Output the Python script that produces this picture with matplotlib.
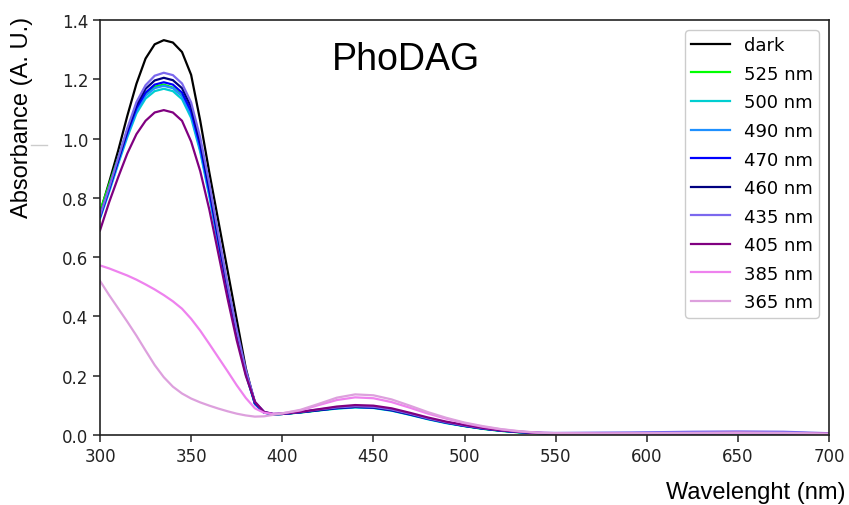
import matplotlib
matplotlib.use("Agg")
import matplotlib.pyplot as plt
from matplotlib.lines import Line2D

wavelength = [300, 305, 310, 315, 320, 325, 330, 335, 340, 345, 350, 355, 360, 365, 370,
              375, 380, 385, 390, 395, 400, 410, 420, 430, 440, 450, 460, 470, 480, 490,
              500, 510, 520, 530, 540, 550, 575, 600, 625, 650, 675, 700]

dark = [0.75, 0.852, 0.96, 1.077, 1.185, 1.27, 1.318, 1.332, 1.324, 1.292, 1.215, 1.06, 0.885, 0.72, 0.555,
        0.39, 0.225, 0.105, 0.076, 0.07, 0.071, 0.077, 0.084, 0.091, 0.095, 0.093, 0.084, 0.07, 0.055, 0.042,
        0.031, 0.022, 0.015, 0.01, 0.007, 0.005, 0.004, 0.005, 0.006, 0.007, 0.006, 0.004]
nm525 = [0.755, 0.845, 0.935, 1.025, 1.1, 1.15, 1.175, 1.182, 1.172, 1.145, 1.08, 0.965, 0.815, 0.65, 0.49,
         0.34, 0.21, 0.108, 0.076, 0.07, 0.071, 0.076, 0.083, 0.09, 0.094, 0.092, 0.083, 0.069, 0.054, 0.041,
         0.03, 0.021, 0.014, 0.009, 0.006, 0.005, 0.004, 0.005, 0.006, 0.006, 0.005, 0.004]
nm500 = [0.73, 0.82, 0.915, 1.005, 1.085, 1.135, 1.16, 1.168, 1.16, 1.133, 1.07, 0.955, 0.805, 0.64, 0.48,
         0.335, 0.205, 0.105, 0.075, 0.07, 0.071, 0.076, 0.083, 0.089, 0.093, 0.091, 0.082, 0.068, 0.053, 0.04,
         0.03, 0.021, 0.014, 0.009, 0.006, 0.004, 0.004, 0.005, 0.005, 0.006, 0.005, 0.003]
nm490 = [0.735, 0.825, 0.92, 1.012, 1.093, 1.145, 1.17, 1.178, 1.17, 1.143, 1.08, 0.963, 0.812, 0.646, 0.485,
         0.338, 0.207, 0.106, 0.076, 0.07, 0.071, 0.077, 0.084, 0.09, 0.094, 0.092, 0.083, 0.069, 0.054, 0.041,
         0.031, 0.022, 0.015, 0.01, 0.007, 0.005, 0.005, 0.006, 0.006, 0.007, 0.006, 0.004]
nm470 = [0.735, 0.828, 0.925, 1.02, 1.103, 1.155, 1.182, 1.19, 1.182, 1.155, 1.092, 0.975, 0.822, 0.655, 0.492,
         0.343, 0.21, 0.107, 0.076, 0.07, 0.071, 0.077, 0.084, 0.091, 0.095, 0.093, 0.084, 0.07, 0.055, 0.042,
         0.031, 0.022, 0.015, 0.01, 0.007, 0.005, 0.005, 0.007, 0.008, 0.009, 0.008, 0.005]
nm460 = [0.74, 0.833, 0.93, 1.028, 1.113, 1.168, 1.196, 1.205, 1.197, 1.17, 1.107, 0.99, 0.835, 0.665, 0.5,
         0.35, 0.215, 0.11, 0.077, 0.07, 0.071, 0.077, 0.084, 0.091, 0.095, 0.093, 0.084, 0.07, 0.055, 0.042,
         0.031, 0.022, 0.015, 0.01, 0.006, 0.004, 0.003, 0.004, 0.005, 0.006, 0.005, 0.003]
nm435 = [0.74, 0.835, 0.935, 1.035, 1.123, 1.18, 1.212, 1.222, 1.214, 1.186, 1.122, 1.003, 0.848, 0.676, 0.508,
         0.356, 0.22, 0.112, 0.078, 0.071, 0.072, 0.078, 0.086, 0.093, 0.097, 0.095, 0.086, 0.072, 0.056, 0.043,
         0.032, 0.023, 0.016, 0.011, 0.008, 0.007, 0.008, 0.009, 0.011, 0.012, 0.011, 0.006]
nm405 = [0.69, 0.785, 0.87, 0.95, 1.015, 1.06, 1.088, 1.096, 1.088, 1.06, 0.99, 0.89, 0.76, 0.61, 0.46,
         0.32, 0.2, 0.112, 0.078, 0.071, 0.072, 0.078, 0.087, 0.096, 0.101, 0.099, 0.09, 0.075, 0.059, 0.045,
         0.034, 0.024, 0.016, 0.011, 0.007, 0.005, 0.004, 0.005, 0.006, 0.007, 0.006, 0.004]
nm385 = [0.572, 0.562, 0.55, 0.538, 0.524, 0.508, 0.491, 0.472, 0.451, 0.426, 0.392, 0.352, 0.307, 0.261, 0.215,
         0.168, 0.125, 0.09, 0.075, 0.071, 0.073, 0.083, 0.101, 0.118, 0.127, 0.124, 0.111, 0.092, 0.072, 0.055,
         0.04, 0.028, 0.019, 0.012, 0.008, 0.006, 0.005, 0.005, 0.006, 0.007, 0.006, 0.004]
nm365 = [0.52, 0.472, 0.427, 0.382, 0.335, 0.285, 0.236, 0.195, 0.163, 0.14, 0.123, 0.11, 0.099, 0.089, 0.08,
         0.072, 0.066, 0.062, 0.063, 0.068, 0.073, 0.085, 0.105, 0.126, 0.137, 0.134, 0.12, 0.099, 0.077, 0.058,
         0.042, 0.03, 0.02, 0.013, 0.008, 0.006, 0.005, 0.006, 0.007, 0.008, 0.007, 0.004]

labels = ["dark", "525 nm", "500 nm", "490 nm", "470 nm", "460 nm", "435 nm", "405 nm", "385 nm", "365 nm"]
series = [dark, nm525, nm500, nm490, nm470, nm460, nm435, nm405, nm385, nm365]
colors = ["black", "lime", "darkturquoise", "dodgerblue", "blue", "navy",
          "mediumslateblue", "purple", "violet", "plum"]

xticks = [300, 350, 400, 450, 500, 550, 600, 650, 700]
yticks = [0.0, 0.2, 0.4, 0.6, 0.8, 1.0, 1.2, 1.4]

fig = plt.figure(figsize=(8.49, 5.06), dpi=100)
ax = fig.add_axes([100 / 849, 1 - 436 / 506, 729 / 849, 415 / 506])

for vals, lab, col in zip(series, labels, colors):
    ax.plot(wavelength, vals, color=col, lw=1.6, label=lab)

ax.set_xlim(300, 700)
ax.set_ylim(0, 1.4)
ax.set_xticks(xticks)
ax.set_yticks(yticks)
ax.set_xticklabels([str(t) for t in xticks])
ax.set_yticklabels([f"{t:.1f}" for t in yticks])
ax.tick_params(labelsize=12, colors="#222222", length=5, width=1.1)
for s in ax.spines.values():
    s.set_linewidth(1.2)
    s.set_color("#222222")

leg = ax.legend(loc="upper right", fontsize=13, handlelength=2.15, handletextpad=0.75,
                labelspacing=0.585, borderpad=0.35, borderaxespad=0.55,
                fancybox=True, framealpha=1, edgecolor="#cccccc")

ax.text(0.42, 0.905, "PhoDAG", transform=ax.transAxes, ha="center", va="center",
        fontsize=27, family="Liberation Sans", color="black")

fig.text(22 / 849, 1 - 117 / 506, "Absorbance (A. U.)", rotation=90, ha="center", va="center",
         fontsize=17, family="Liberation Sans")
fig.text(845 / 849, 1 - 493 / 506, "Wavelenght (nm)", ha="right", va="center",
         fontsize=17, family="Liberation Sans")

fig.add_artist(Line2D([31 / 849, 47 / 849], [1 - 146 / 506, 1 - 146 / 506], color="#cccccc", lw=1))

fig.savefig("out.png", dpi=100)
